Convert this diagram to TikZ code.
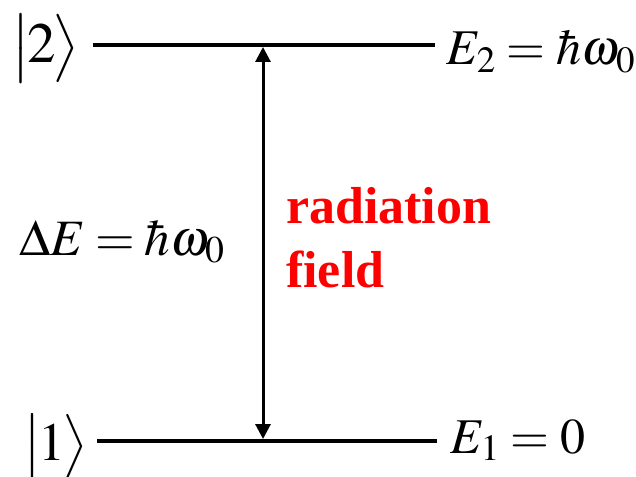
\documentclass[tikz,border=0pt]{standalone}
\usepackage{mathptmx}
\usepackage{fontspec}
\setmainfont{Liberation Serif}
\usetikzlibrary{arrows.meta}
\tikzset{
  level/.style={line width=4pt},
  trans/.style={line width=3pt,{Triangle[length=15pt,width=15pt]}-{Triangle[length=15pt,width=15pt]}},
  lab/.style={inner sep=0pt,anchor=base west},
  redlab/.style={inner sep=0pt,anchor=base west,text=red,font=\fontsize{52}{64}\selectfont\bfseries,align=left}
}
\newcommand{\tightmath}{\thickmuskip=4mu\relax}
\newcommand{\tightermath}{\thickmuskip=3.5mu\relax}
\newcommand{\myket}[1]{$\bigl|\mkern-1mu #1\mkern-1mu\bigr\rangle$}
\begin{document}
\begin{tikzpicture}[x=1pt,y=-1pt]
\useasboundingbox (0,0) rectangle (636,476);
\coordinate (t1) at (93,45);
\coordinate (t2) at (435,45);
\coordinate (b1) at (97,441);
\coordinate (b2) at (437,441);
\coordinate (at) at (263,47);
\coordinate (ab) at (263,439);
\draw[level] (t1) -- (t2);
\draw[level] (b1) -- (b2);
\draw[trans] (at) -- (ab);
\node[lab,font=\fontsize{57}{68}\selectfont] (k2) at (11,63) {\myket{2}};
\node[lab,font=\fontsize{54}{64}\selectfont] (k1) at (23,460) {\myket{1}};
\node[lab,font=\fontsize{50}{60}\selectfont\tightmath] (e2) at (446,65) {$E_2=\hbar\omega_0$};
\node[lab,font=\fontsize{51}{61}\selectfont\tightermath] (de) at (19,255) {$\Delta E=\hbar\omega_0$};
\node[lab,font=\fontsize{50}{60}\selectfont\tightmath] (e1) at (450,453) {$E_1=0$};
\node[redlab] (rf) at (286,287) {radiation\\field};
\end{tikzpicture}
\end{document}
